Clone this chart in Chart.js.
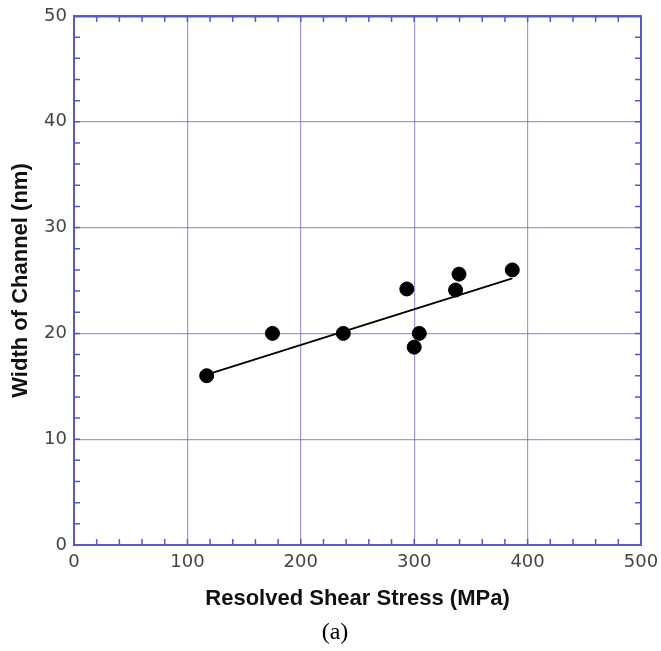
<!DOCTYPE html>
<html>
<head>
<meta charset="utf-8">
<title>Width of Channel vs Resolved Shear Stress</title>
<script src="https://cdn.jsdelivr.net/npm/chart.js@4.4.1/dist/chart.umd.min.js"></script>
<style>
  html, body { margin: 0; padding: 0; background: #fff; }
  canvas { display: block; }
</style>
</head>
<body>
<canvas id="channelChart" width="661" height="651"></canvas>
<script>
// measured points
const stressMPa = [117, 175, 237.5, 293.5, 300, 304.5, 336.5, 339.5, 386.5];
const channelWidth = [16.0, 20.0, 20.0, 24.2, 18.7, 20.0, 24.1, 25.6, 26.0];

// linear fit through the points
const fitStress = [117, 386.5];
const fitWidth = [16.1, 25.2];

const xTicks = [0, 100, 200, 300, 400, 500];
const yTicks = [0, 10, 20, 30, 40, 50];

const gridBlue = 'rgba(90, 90, 180, 0.6)';
const frameBlue = '#5858c8';

// small inward ticks on all four sides of the frame
const minorTicks = {
    id: 'minorTicks',
    afterDatasetsDraw(chart) {
        const { ctx, chartArea: a, scales } = chart;
        const len = 6;
        ctx.save();
        ctx.strokeStyle = frameBlue;
        ctx.lineWidth = 1.5;
        ctx.beginPath();
        for (let v = scales.x.min; v <= scales.x.max; v += 20) {
            const px = scales.x.getPixelForValue(v);
            ctx.moveTo(px, a.bottom); ctx.lineTo(px, a.bottom - len);
            ctx.moveTo(px, a.top); ctx.lineTo(px, a.top + len);
        }
        for (let v = scales.y.min; v <= scales.y.max; v += 2) {
            const py = scales.y.getPixelForValue(v);
            ctx.moveTo(a.left, py); ctx.lineTo(a.left + len, py);
            ctx.moveTo(a.right, py); ctx.lineTo(a.right - len, py);
        }
        ctx.stroke();
        ctx.restore();
    },
    afterDraw(chart) {
        const { ctx } = chart;
        ctx.save();
        ctx.fillStyle = '#000';
        ctx.font = '24px "Liberation Serif"';
        ctx.textAlign = 'center';
        ctx.textBaseline = 'middle';
        ctx.fillText('(a)', 335, 633);
        ctx.restore();
    }
};

const tickFont = { family: '"DejaVu Sans"', size: 18 };
const titleFont = { family: '"Liberation Sans"', size: 22, weight: 'bold' };

new Chart(document.getElementById('channelChart'), {
    type: 'scatter',
    data: {
        datasets: [
            {
                label: 'fit',
                type: 'line',
                data: fitStress.map((x, i) => ({ x, y: fitWidth[i] })),
                borderColor: '#000',
                borderWidth: 1.8,
                pointRadius: 0,
                fill: false
            },
            {
                label: 'width',
                data: stressMPa.map((x, i) => ({ x, y: channelWidth[i] })),
                backgroundColor: '#000',
                borderColor: '#000',
                pointRadius: 7,
                pointHoverRadius: 7
            }
        ]
    },
    options: {
        responsive: false,
        animation: false,
        layout: { padding: { top: 16, right: 20, left: 0, bottom: 0 } },
        plugins: { legend: { display: false }, tooltip: { enabled: false } },
        scales: {
            x: {
                type: 'linear',
                position: 'bottom',
                min: 0, max: 500,
                afterBuildTicks: s => { s.ticks = xTicks.map(value => ({ value })); },
                afterFit: s => { s.height = 106; s.paddingLeft = 0; s.paddingRight = 0; },
                grid: { color: gridBlue, lineWidth: 1.2, drawTicks: false },
                border: { color: frameBlue, width: 2 },
                ticks: { font: tickFont, color: '#444', padding: 7, maxRotation: 0 },
                title: {
                    display: true,
                    text: 'Resolved Shear Stress (MPa)',
                    font: titleFont,
                    color: '#111',
                    padding: { top: 0, bottom: 39 }
                }
            },
            y: {
                type: 'linear',
                position: 'left',
                min: 0, max: 50,
                afterBuildTicks: s => { s.ticks = yTicks.map(value => ({ value })); },
                afterFit: s => { s.width = 74; s.paddingTop = 0; s.paddingBottom = 0; },
                grid: { color: gridBlue, lineWidth: 1.2, drawTicks: false },
                border: { color: frameBlue, width: 2 },
                ticks: { font: tickFont, color: '#444', padding: 7 },
                title: {
                    display: true,
                    text: 'Width of Channel (nm)',
                    font: titleFont,
                    color: '#111',
                    padding: { top: 8, bottom: 0 }
                }
            },
            xTop: {
                type: 'linear',
                position: 'top',
                min: 0, max: 500,
                afterFit: s => { s.height = 0; s.paddingLeft = 0; s.paddingRight = 0; },
                grid: { drawOnChartArea: false, drawTicks: false },
                border: { color: frameBlue, width: 2.5 },
                ticks: { display: false }
            },
            yRight: {
                type: 'linear',
                position: 'right',
                min: 0, max: 50,
                afterFit: s => { s.width = 0; s.paddingTop = 0; s.paddingBottom = 0; },
                grid: { drawOnChartArea: false, drawTicks: false },
                border: { color: frameBlue, width: 2 },
                ticks: { display: false }
            }
        }
    },
    plugins: [minorTicks]
});
</script>
</body>
</html>
